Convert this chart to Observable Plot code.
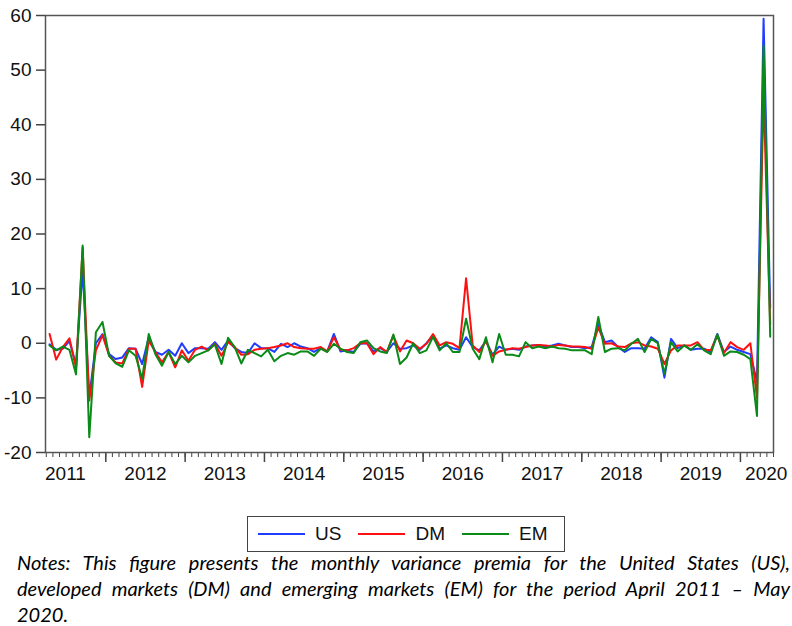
<!DOCTYPE html>
<html>
<head>
<meta charset="utf-8">
<script src="https://cdn.jsdelivr.net/npm/d3@7"></script>
<script src="https://cdn.jsdelivr.net/npm/@observablehq/plot@0.6"></script>
<style>
  html, body { margin: 0; padding: 0; background: #fff; }
  #wrap { position: relative; width: 792px; height: 626px; overflow: hidden; }
  #chart { position: absolute; left: 0; top: 0; }
  #legend {
    position: absolute; left: 247px; top: 516px; width: 316px; height: 34px;
    border: 1px solid #444; display: flex; align-items: center; box-sizing: content-box;
    font-family: "Liberation Sans", Arial, sans-serif; font-size: 19px; color: #111;
  }
  #legend .sw { width: 47px; height: 2px; margin-left: 10px; margin-right: 10px; }
  #legend .lb { margin-right: 7px; }
  #notes {
    position: absolute; left: 17px; top: 549px; width: 773px;
    font-family: Lato, "Open Sans", sans-serif; font-style: italic; font-size: 20px;
    line-height: 26px; color: #000;
  }
  #notes .j { text-align: justify; text-align-last: justify; white-space: nowrap; }
</style>
</head>
<body>
<div id="wrap">
  <div id="chart"></div>
  <div id="legend"></div>
  <div id="notes">
    <div class="j">Notes: This figure presents the monthly variance premia for the United States (US),</div>
    <div class="j">developed markets (DM) and emerging markets (EM) for the period April 2011 – May</div>
    <div>2020.</div>
  </div>
</div>
<script>
// Monthly observations, April 2011 (index 0) to May 2020 (index 109)
const US = [
  -0.2, -1.2, -1.0, 0.4, -4.0, 13.5, -9.9, 0.0, 1.7, -2.0,
  -2.9, -2.6, -0.9, -1.0, -3.8, 1.1, -1.6, -2.1, -1.2, -2.3,
  0.0, -1.8, -0.9, -0.9, -1.0, 0.2, -1.2, 0.5, -0.9, -1.6,
  -1.8, 0.0, -0.9, -0.9, -1.6, -0.1, -0.7, 0.0, -0.6, -0.9,
  -1.6, -0.9, -1.5, 1.7, -1.5, -1.3, -1.6, -0.1, 0.0, -1.5,
  -0.9, -1.6, 0.0, -1.0, -0.9, -0.4, -1.2, 0.0, 1.4, -1.0,
  -0.4, -0.9, -1.2, 1.1, -0.7, -1.3, 0.4, -2.1, -0.6, -1.2,
  -1.0, -1.2, -0.6, -0.4, -0.3, -0.6, -0.4, -0.1, -0.4, -0.7,
  -0.7, -0.9, -0.7, 3.5, 0.2, 0.5, -0.7, -1.6, -0.9, -0.9,
  -1.0, 1.1, 0.2, -6.3, 0.8, -0.9, -0.4, -1.2, -1.0, -1.0,
  -1.6, 1.7, -1.6, -0.6, -1.2, -1.6, -2.0, -7.0, 59.4, 6.5
];
const DM = [
  1.7, -3.0, -0.7, 0.9, -4.5, 17.5, -10.5, -1.3, 1.5, -2.3,
  -3.5, -3.7, -1.0, -1.0, -8.0, 0.5, -1.6, -3.5, -1.6, -4.4,
  -1.3, -3.2, -1.2, -0.6, -1.3, -0.1, -2.3, 0.2, -0.7, -2.1,
  -2.0, -1.2, -1.0, -0.9, -0.7, -0.4, 0.0, -0.7, -0.9, -1.0,
  -1.0, -0.7, -1.5, 1.1, -1.2, -1.3, -0.9, 0.0, 0.0, -2.0,
  -0.7, -1.6, 1.4, -1.5, 0.5, 0.0, -1.0, -0.1, 1.7, -0.4,
  0.2, -0.1, -0.9, 11.9, -0.4, -1.6, 0.4, -2.3, -1.5, -1.2,
  -0.9, -1.0, -0.7, -0.4, -0.3, -0.4, -0.6, -0.3, -0.4, -0.6,
  -0.6, -0.7, -1.0, 2.9, -0.1, 0.0, -0.6, -0.7, 0.0, 0.2,
  -0.4, -0.6, -1.0, -3.8, -1.3, -0.4, -0.4, -0.4, 0.2, -1.2,
  -1.3, 1.4, -1.8, 0.2, -0.7, -1.2, 0.0, -10.0, 46.0, 3.5
];
const EM = [
  -0.4, -1.3, -0.6, -1.2, -5.7, 17.9, -17.2, 2.0, 3.9, -2.3,
  -3.7, -4.3, -1.3, -2.3, -6.5, 1.7, -2.0, -4.1, -1.6, -3.8,
  -2.3, -3.5, -2.3, -1.8, -1.3, -0.2, -3.8, 1.0, -0.7, -3.7,
  -1.2, -1.8, -2.4, -1.2, -3.3, -2.3, -1.8, -2.1, -1.5, -1.5,
  -2.3, -1.0, -1.6, -0.1, -1.0, -1.6, -1.8, 0.2, 0.5, -0.9,
  -1.5, -1.8, 1.6, -3.8, -2.6, 0.0, -1.8, -1.3, 1.2, -1.3,
  0.0, -1.6, -1.6, 4.5, -1.0, -2.9, 1.1, -3.5, 1.7, -2.1,
  -2.1, -2.4, 0.2, -0.9, -0.6, -0.9, -0.6, -0.9, -1.0, -1.3,
  -1.3, -1.3, -2.0, 4.8, -1.6, -1.0, -0.9, -1.3, -0.1, 0.8,
  -1.6, 0.8, 0.0, -5.6, 0.2, -1.5, -0.4, -1.2, -0.2, -1.3,
  -2.0, 1.6, -2.3, -1.5, -1.6, -2.1, -2.9, -13.3, 54.5, 1.2
];
const seriesNames = ["US", "DM", "EM"];
const seriesColors = ["#1f3dff", "#ff1010", "#0a8a16"];
const yTicks = [-20, -10, 0, 10, 20, 30, 40, 50, 60];
const yearLabels = ["2011", "2012", "2013", "2014", "2015", "2016", "2017", "2018", "2019", "2020"];
// label position (month index) for each year label
const yearLabelPos = [2.4, 14.5, 26.5, 38.5, 50.5, 62.5, 74.5, 86.5, 98.5, 108.4];
// year boundaries (January of each year, as month index boundary)
const yearBounds = [8.5, 20.5, 32.5, 44.5, 56.5, 68.5, 80.5, 92.5, 104.5];

const nMonths = US.length;
const monthBounds = d3.range(nMonths + 1).map(i => i - 0.5);

const rows = [];
[US, DM, EM].forEach((arr, k) => arr.forEach((v, i) => rows.push({i, v, s: seriesNames[k]})));

const chart = Plot.plot({
  width: 792,
  height: 500,
  marginTop: 15,
  marginLeft: 45,
  marginRight: 19,
  marginBottom: 48,
  style: {fontFamily: "'Liberation Sans', Arial, sans-serif", fontSize: "19px", color: "#111", background: "#fff"},
  x: {domain: [-0.62, 109.5], axis: null},
  y: {domain: [-20, 60], axis: null},
  color: {domain: seriesNames, range: seriesColors},
  marks: [
    Plot.axisY({ticks: yTicks, tickSize: 9, tickPadding: 5, tickFormat: d => String(d), label: null, fontSize: 19, stroke: "#444", strokeWidth: 1.5, color: "#111"}),
    Plot.axisX({ticks: monthBounds, tickSize: 5, tickFormat: () => "", label: null, stroke: "#444", strokeWidth: 1}),
    Plot.axisX({ticks: yearBounds, tickSize: 10, tickFormat: () => "", label: null, stroke: "#444", strokeWidth: 1.5}),
    Plot.axisX({ticks: yearLabelPos, tickSize: 0, tickPadding: 14, tickFormat: (d, j) => yearLabels[j], label: null, fontSize: 19}),
    Plot.line(rows, {x: "i", y: "v", z: "s", stroke: "s", strokeWidth: 2, clip: true}),
    Plot.frame({stroke: "#555", strokeWidth: 1.5})
  ]
});
document.getElementById("chart").appendChild(chart);

const legend = document.getElementById("legend");
seriesNames.forEach((n, k) => {
  const sw = document.createElement("span");
  sw.className = "sw";
  sw.style.background = seriesColors[k];
  const lb = document.createElement("span");
  lb.className = "lb";
  lb.textContent = n;
  legend.appendChild(sw);
  legend.appendChild(lb);
});
</script>
</body>
</html>
